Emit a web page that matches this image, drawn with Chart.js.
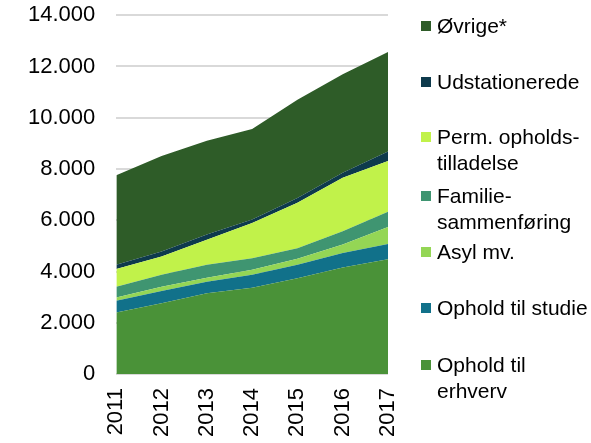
<!DOCTYPE html>
<html>
<head>
<meta charset="utf-8">
<script src="https://cdn.jsdelivr.net/npm/chart.js@4/dist/chart.umd.min.js"></script>
<style>
    body { margin: 0; background: #ffffff; }
    #wrap { position: relative; width: 591px; height: 443px; }
    #legend { position: absolute; left: 0; top: 0; font-family: "Liberation Sans", Arial, sans-serif; font-size: 21px; color: #000; }
    .item { position: absolute; left: 421px; display: flex; align-items: flex-start; line-height: 26px; white-space: nowrap; }
    .box { width: 10px; height: 10px; margin-top: 8px; margin-right: 6px; flex: none; }
</style>
</head>
<body>
<div id="wrap">
    <canvas id="areaChart" width="591" height="443"></canvas>
    <div id="legend"></div>
</div>
<script>
const years = ["2011", "2012", "2013", "2014", "2015", "2016", "2017"];

// bottom to top
const erhverv = [2400, 2760, 3150, 3370, 3740, 4160, 4480];
const studie = [460, 480, 450, 500, 520, 560, 590];
const asyl = [130, 170, 160, 200, 240, 330, 670];
const familie = [420, 460, 500, 450, 410, 520, 590];
const perm = [690, 720, 980, 1370, 1770, 2090, 1980];
const udstationerede = [160, 190, 200, 140, 190, 190, 370];
const oevrige = [3500, 3730, 3660, 3530, 3830, 3850, 3880];

const seriesNames = ["Ophold til\nerhverv", "Ophold til studie", "Asyl mv.", "Familie-\nsammenføring", "Perm. opholds-\ntilladelse", "Udstationerede", "Øvrige*"];
const seriesColors = ["#4a9238", "#11718a", "#94d655", "#3f9571", "#c1f24a", "#0e3a4c", "#2e5c28"];
const seriesData = [erhverv, studie, asyl, familie, perm, udstationerede, oevrige];

function formatThousands(v) {
    return v.toString().replace(/\B(?=(\d{3})+(?!\d))/g, ".");
}

const datasets = seriesData.map((d, i) => ({
    label: seriesNames[i],
    data: d,
    backgroundColor: seriesColors[i],
    borderColor: seriesColors[i],
    borderWidth: 0,
    pointRadius: 0,
    fill: i === 0 ? "origin" : "-1",
    tension: 0
}));

const fontFamily = '"Liberation Sans", Arial, sans-serif';

new Chart(document.getElementById("areaChart"), {
    type: "line",
    data: { labels: years, datasets: datasets },
    options: {
        responsive: false,
        animation: false,
        layout: { padding: { left: 26, right: 203, top: 0, bottom: 0 } },
        plugins: {
            legend: { display: false },
            tooltip: { enabled: false }
        },
        scales: {
            x: {
                offset: false,
                grid: { display: false },
                border: { display: false },
                ticks: {
                    minRotation: 90,
                    maxRotation: 90,
                    color: "#000",
                    padding: 6,
                    font: { family: fontFamily, size: 22 }
                }
            },
            y: {
                stacked: true,
                min: 0,
                max: 14000,
                // invisible tick marks give the gap between labels and plot
                grid: { color: "#d9d9d9", lineWidth: 2, drawTicks: true, tickLength: 19, tickColor: "rgba(0,0,0,0)" },
                border: { display: false },
                ticks: {
                    stepSize: 2000,
                    color: "#000",
                    padding: 2,
                    font: { family: fontFamily, size: 22 },
                    callback: function(value) {
                        return formatThousands(value);
                    }
                }
            }
        }
    }
});

// legend, top entry first like the original
const legendTops = [13, 69, 124, 183, 239, 295, 352];
const legend = document.getElementById("legend");
for (let i = seriesNames.length - 1, k = 0; i >= 0; i--, k++) {
    const item = document.createElement("div");
    item.className = "item";
    item.style.top = legendTops[k] + "px";
    const box = document.createElement("div");
    box.className = "box";
    box.style.background = seriesColors[i];
    const text = document.createElement("div");
    text.innerHTML = seriesNames[i].replace("\n", "<br>");
    item.appendChild(box);
    item.appendChild(text);
    legend.appendChild(item);
}
</script>
</body>
</html>
